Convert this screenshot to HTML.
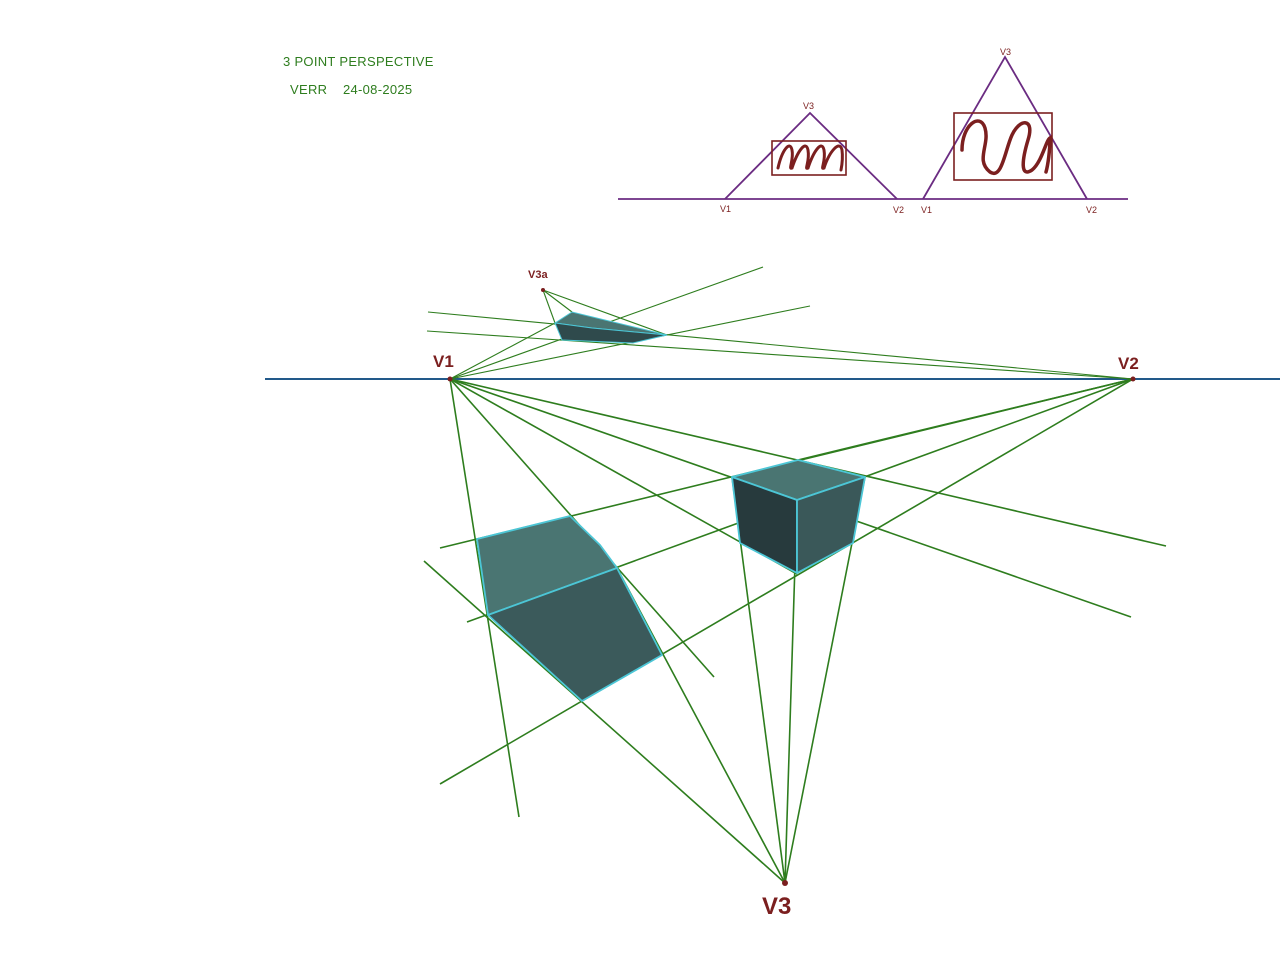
<!DOCTYPE html>
<html><head><meta charset="utf-8"><style>
html,body{margin:0;padding:0;background:#fff;}
svg{display:block;}
</style></head><body>
<svg width="1280" height="962" viewBox="0 0 1280 962" xmlns="http://www.w3.org/2000/svg">
<rect width="1280" height="962" fill="#fff"/>
<text x="283" y="66" font-family="Liberation Sans, sans-serif" font-size="13" fill="#2e7d1e" letter-spacing="0.3">3 POINT PERSPECTIVE</text>
<text x="290" y="94" font-family="Liberation Sans, sans-serif" font-size="13" fill="#2e7d1e" letter-spacing="0.3">VERR&#160;&#160;&#160;&#160;24-08-2025</text>

<g stroke="#6b2c82" stroke-width="1.8" fill="none">
<line x1="618" y1="199" x2="1128" y2="199"/>
<polyline points="725,199 810,113 897,199"/>
<polyline points="923,199 1005,57 1087,199"/>
</g>
<g stroke="#7b1f1f" fill="none" stroke-linecap="round">
<rect x="772" y="141" width="74" height="34" stroke-width="1.6"/>
<path d="M778,168 C782,150 790,140 792,150 C794,160 788,170 792,168 C798,150 806,140 808,150 C810,162 804,170 808,168 C814,150 822,140 824,150 C826,162 820,170 824,168 C830,150 840,140 842,150 C843,158 842,165 841,170" stroke-width="3"/>
<rect x="954" y="113" width="98" height="67" stroke-width="1.6"/>
<path d="M962,150 C962,125 980,112 985,128 C990,145 975,160 990,172 C1002,180 1005,150 1012,135 C1020,118 1035,118 1028,140 C1022,160 1020,178 1032,170 C1042,162 1046,140 1050,138 C1050,150 1048,165 1046,172" stroke-width="3.5"/>
</g>
<g font-family="Liberation Sans, sans-serif" font-size="9" fill="#7b1f1f">
<text x="803" y="109">V3</text>
<text x="720" y="212">V1</text>
<text x="893" y="213">V2</text>
<text x="921" y="213">V1</text>
<text x="1000" y="55">V3</text>
<text x="1086" y="213">V2</text>
</g>

<line x1="265" y1="379" x2="1280" y2="379" stroke="#22598a" stroke-width="2"/>

<g stroke="#2e7d1e" stroke-width="1.6" fill="none">
<line x1="450" y1="379" x2="519" y2="817"/>
<line x1="450" y1="379" x2="714" y2="677"/>
<line x1="450" y1="379" x2="797" y2="574"/>
<line x1="450" y1="379" x2="1131" y2="617"/>
<line x1="450" y1="379" x2="1166" y2="546"/>
<line x1="1133" y1="379" x2="440" y2="548"/>
<line x1="1133" y1="379" x2="467" y2="622"/>
<line x1="1133" y1="379" x2="440" y2="784"/>
<line x1="1133" y1="379" x2="798" y2="460"/>
<line x1="785" y1="883" x2="424" y2="561"/>
<line x1="785" y1="883" x2="617" y2="568"/>
<line x1="785" y1="883" x2="732" y2="477"/>
<line x1="785" y1="883" x2="797" y2="500"/>
<line x1="785" y1="883" x2="865" y2="477"/>
</g>
<g stroke="#2e7d1e" stroke-width="1.1" fill="none">
<line x1="450" y1="379" x2="763" y2="267"/>
<line x1="450" y1="379" x2="810" y2="306"/>
<line x1="450" y1="379" x2="555" y2="323"/>
<line x1="1133" y1="379" x2="428" y2="312"/>
<line x1="1133" y1="379" x2="427" y2="331"/>
<line x1="543" y1="290" x2="555" y2="323"/>
<line x1="543" y1="290" x2="572" y2="312"/>
<line x1="543" y1="290" x2="667" y2="335"/>
</g>

<g stroke="#4cc6d6" stroke-width="1">
<polygon points="555,323 572,312 667,335 592,328" fill="#4a7572"/>
<polygon points="555,323 592,328 667,335 633,343 562,340" fill="#2f4a4c"/>
</g>

<g stroke="#4cc6d6" stroke-width="1.8" stroke-linejoin="round">
<polygon points="477,539 570,516 600,545 617,568 488,615" fill="#4a7572"/>
<polygon points="488,615 617,568 662,655 582,701" fill="#3b5a5b"/>
</g>

<g stroke="#4cc6d6" stroke-width="1.8" stroke-linejoin="round">
<polygon points="732,477 798,460 865,477 797,500" fill="#4a7572"/>
<polygon points="732,477 797,500 797,573 740,543" fill="#273a3d"/>
<polygon points="797,500 865,477 853,543 797,573" fill="#3a5859"/>
</g>

<g fill="#7b1f1f">
<circle cx="450" cy="379" r="2.5"/>
<circle cx="1133" cy="379" r="2.5"/>
<circle cx="785" cy="883" r="3"/>
<circle cx="543" cy="290" r="2"/>
</g>
<g font-family="Liberation Sans, sans-serif" font-weight="bold" fill="#7b1f1f">
<text x="433" y="367" font-size="17">V1</text>
<text x="1118" y="369" font-size="17">V2</text>
<text x="762" y="914" font-size="24">V3</text>
<text x="528" y="278" font-size="11">V3a</text>
</g>
</svg>
</body></html>
